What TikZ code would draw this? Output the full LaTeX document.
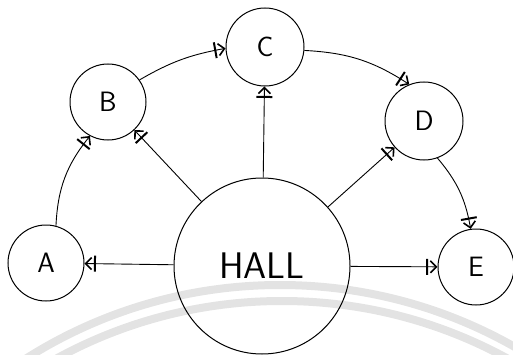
\documentclass[tikz,border=0pt]{standalone}
\usetikzlibrary{arrows.meta}
\definecolor{wmark}{HTML}{E3E3E3}
\begin{document}
\begin{tikzpicture}[x=1pt,y=1pt,
  room/.style={circle,draw,line width=1pt,minimum size=76pt,inner sep=0pt,
    font=\sffamily\fontsize{28}{30}\selectfont},
  hall/.style={room,minimum size=176pt,font=\sffamily\fontsize{37}{40}\selectfont},
  flow/.style={line width=0.9pt,
    -{Bar[width=16pt,line width=2pt,sep=1.5pt]Straight Barb[length=6pt,width=12pt,line width=1.6pt]}},
  band/.style={draw=wmark,line width=8pt}]
\useasboundingbox (0,0) rectangle (513,354);
\begin{scope}
  \clip (0,0) rectangle (513,354);
  \draw[band] (280,-406) circle[radius=475];
  \draw[band] (282,-417) circle[radius=470];
\end{scope}
\node[room] (A) at (46,91) {A};
\node[room] (B) at (108,252) {B};
\node[room,minimum size=78pt] (C) at (265,307) {C};
\node[room,minimum size=78pt] (D) at (424,233) {D};
\node[room] (E) at (476,87) {E};
\node[hall] (H) at (262,88) {HALL};
\draw[flow] (H) -- (A);
\draw[flow] (H) -- (B);
\draw[flow] (H) -- (C);
\draw[flow] (H) -- (D);
\draw[flow] (H) -- (E);
\draw[flow] (A.75) to[bend left=18] (B.-118);
\draw[flow] (B.35) to[bend left=10] (C.182);
\draw[flow] (C.-5) to[bend left=15] (D.112);
\draw[flow] (D.-70) to[bend left=15] (E.98);
\end{tikzpicture}
\end{document}
